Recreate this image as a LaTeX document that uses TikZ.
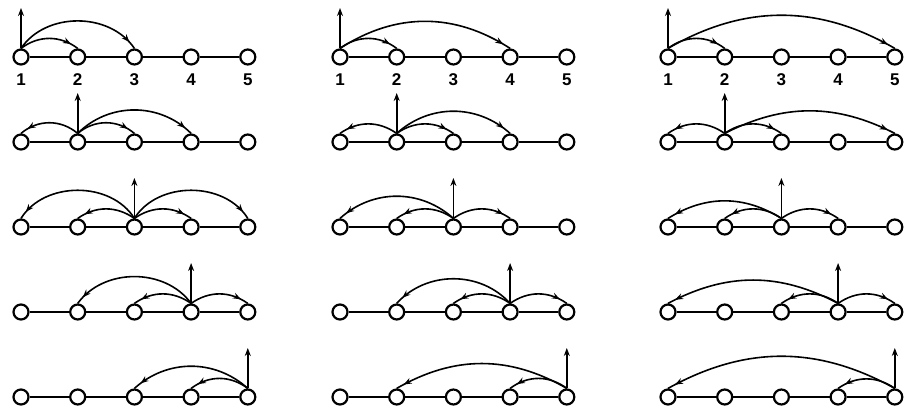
\documentclass[tikz,border=0pt]{standalone}
\usepackage{fontspec}
\setsansfont{Liberation Sans}
\usetikzlibrary{arrows.meta,positioning,calc,decorations.markings}

\begin{document}
\begin{tikzpicture}[x=0.5pt, y=0.5pt,
        site/.style={circle, draw, line width=1.1pt, fill=white, inner sep=0pt, minimum size=7.5pt},
        link/.style={line width=0.9pt},
        hop/.style={line width=0.8pt, postaction={decorate},
            decoration={markings, mark=at position -4pt with {\arrow{Stealth[length=4pt, width=3pt]}}}},
        emit/.style={line width=0.8pt, -{Stealth[length=4pt, width=3pt]}},
        num/.style={font=\sffamily\bfseries\fontsize{8.5}{10}\selectfont, inner sep=1pt}]
  \useasboundingbox (0,0) rectangle (904,413);

  % five chains in each of three columns; the source of row r is site r
  \foreach \c/\xo in {1/21, 2/340, 3/668} {
    \foreach \r in {1,...,5} {
      \foreach \k in {1,...,5}
        \node [site] (n\c\r\k) at ({\xo+56.7*(\k-1)}, {356-85*(\r-1)}) {};
      \foreach \k [count=\j from 2] in {1,...,4}
        \draw [link] (n\c\r\k) -- (n\c\r\j);
      \coordinate (up\c\r) at ($(n\c\r\r.center)+(0,49)$);
      \draw [emit] (n\c\r\r.north) -- (up\c\r);
    }
    \foreach \k in {1,...,5}
      \node [num, below=3pt of n\c1\k] (lab\c\k) {\k};
  }

  % hops: column/row/target/side/bend
  \foreach \c/\r/\t/\s/\b in {
      1/1/2/left/37, 1/1/3/left/56,
      2/1/2/left/37, 2/1/4/left/33,
      3/1/2/left/37, 3/1/5/left/30,
      1/2/1/right/40, 1/2/3/left/40, 1/2/4/left/45,
      2/2/1/right/35, 2/2/3/left/35, 2/2/4/left/42,
      3/2/1/right/35, 3/2/3/left/35, 3/2/5/left/27,
      1/3/2/right/35, 1/3/4/left/35, 1/3/1/right/58, 1/3/5/left/58,
      2/3/2/right/35, 2/3/4/left/35, 2/3/1/right/42,
      3/3/2/right/35, 3/3/4/left/35, 3/3/1/right/32,
      1/4/3/right/35, 1/4/5/left/35, 1/4/2/right/54,
      2/4/3/right/35, 2/4/5/left/35, 2/4/2/right/48,
      3/4/3/right/35, 3/4/5/left/35, 3/4/1/right/28,
      1/5/4/right/37, 1/5/3/right/42,
      2/5/4/right/37, 2/5/2/right/30,
      3/5/4/right/35, 3/5/1/right/29}
    \draw [hop] (n\c\r\r.north) to [bend \s=\b] (n\c\r\t.north);
\end{tikzpicture}
\end{document}
